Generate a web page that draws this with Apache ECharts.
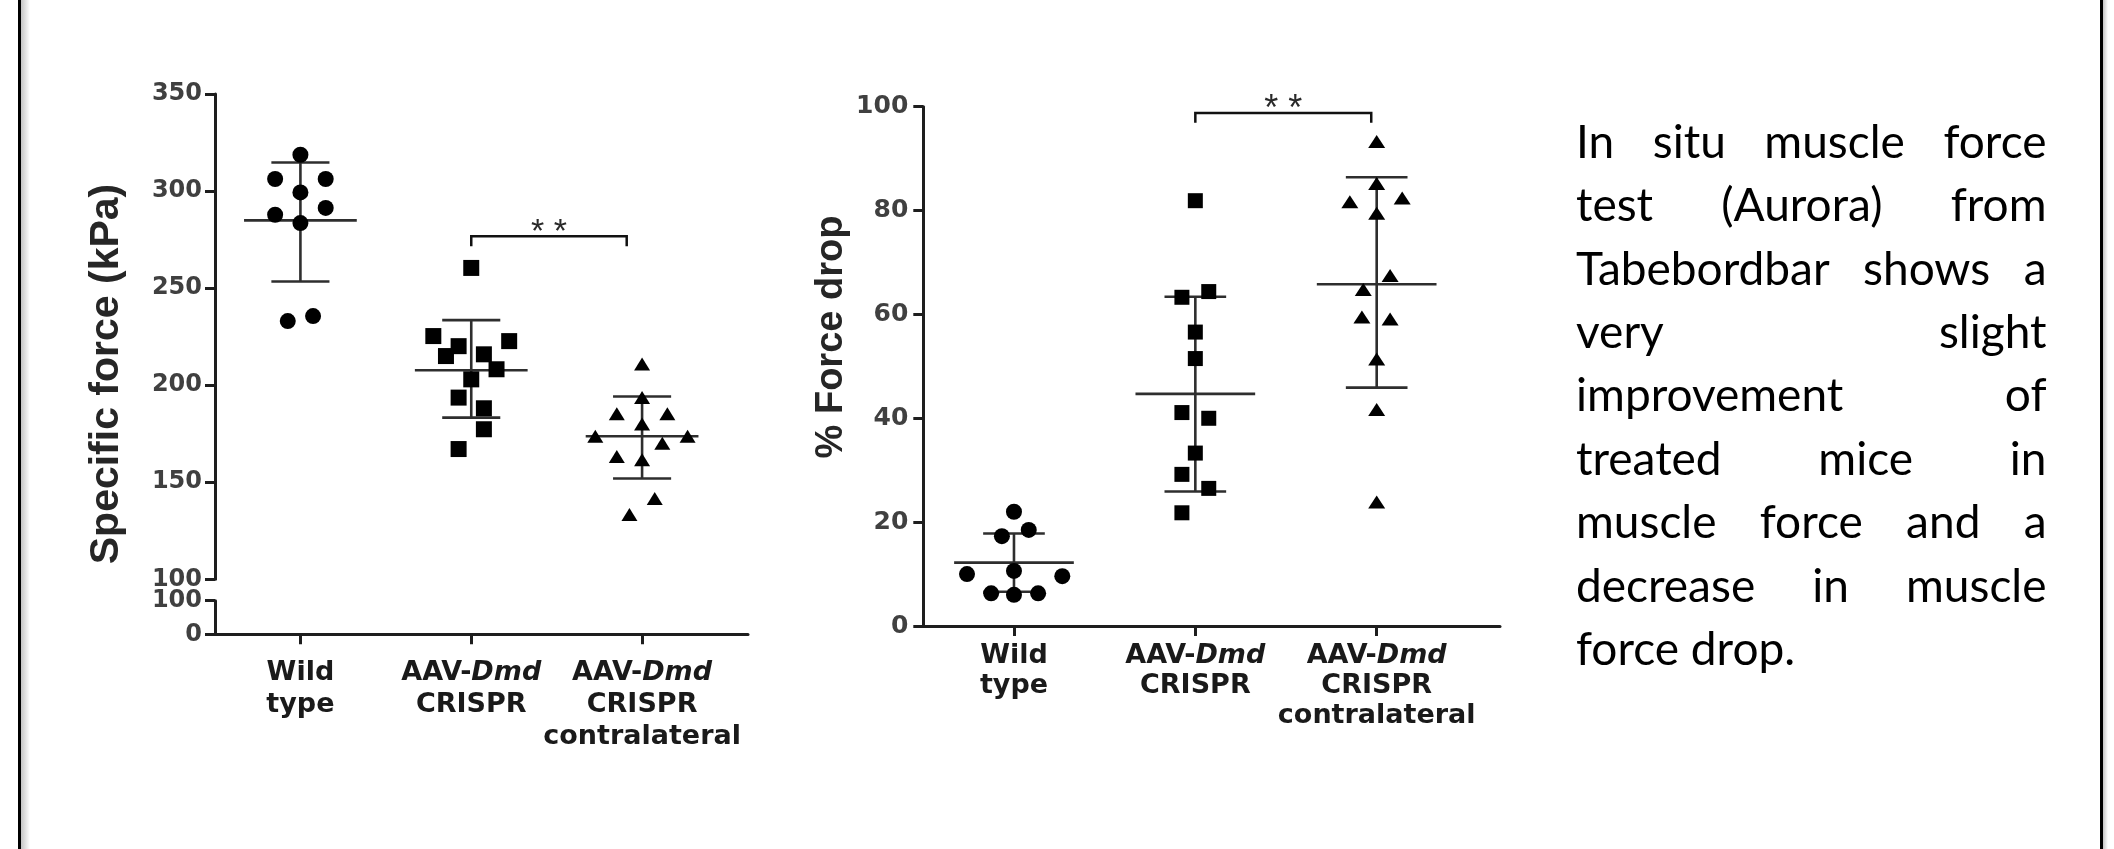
<!DOCTYPE html>
<html>
<head>
<meta charset="utf-8">
<script src="https://cdn.jsdelivr.net/npm/echarts@6/dist/echarts.min.js"></script>
<style>
html, body { margin: 0; padding: 0; background: #fff; }
#main { width: 2114px; height: 849px; }
</style>
</head>
<body>
<div id="main"></div>
<script>
let chart = echarts.init(document.getElementById('main'));

/* groups on both panels */
let groupNames = ['Wild\ntype', 'AAV-Dmd\nCRISPR', 'AAV-Dmd\nCRISPR\ncontralateral'];

/* specific force (kPa) */
let forceWt = [318.7, 306.2, 306.2, 299.3, 291.3, 287.8, 283.5, 233.0, 235.6];
let forceWtSlot = [0, -2, 2, 0, 2, -2, 0, -1, 1];
let forceCr = [260.4, 225.3, 222.7, 220.1, 215.0, 215.9, 208.2, 203.0, 193.6, 188.1, 177.3, 167.1];
let forceCrSlot = [0, -3, 3, -1, -2, 1, 2, 0, -1, 1, 1, -1];
let forceCo = [210.9, 193.7, 185.3, 185.3, 180.0, 173.7, 173.7, 170.1, 163.2, 161.6, 141.6, 133.4];
let forceCoSlot = [0, 0, -2, 2, 0, -3.7, 3.6, 1.6, -2, 0, 1, -1];
let forceMean = [284.9, 207.7, 173.7];
let forceSdHi = [314.7, 233.5, 194.2];
let forceSdLo = [253.4, 183.3, 151.9];

/* % force drop, right panel */
let dropWt = [22.0, 17.3, 18.5, 10.0, 10.6, 9.6, 6.3, 6.0, 6.3];
let dropWtSlot = [0, -0.9, 1.1, -3.5, 0, 3.6, -1.7, 0, 1.8];
let dropCr = [81.9, 63.3, 64.4, 56.6, 51.5, 41.1, 40.0, 33.3, 29.2, 26.5, 21.8];
let dropCrSlot = [0, -1, 1, 0, 0, -1, 1, 0, -1, 1, -1];
let dropCo = [93.3, 85.2, 81.7, 82.4, 79.5, 67.5, 64.8, 59.5, 59.1, 51.4, 41.7, 23.9];
let dropCoSlot = [0, 0, -2, 1.9, 0, 1, -1, -1.1, 1, 0, 0, 0];
let dropMean = [12.2, 44.7, 65.8];
let dropSdHi = [17.8, 63.4, 86.4];
let dropSdLo = [6.6, 25.9, 45.9];

/* significance: [from group, to group, bar value, tick end value] */
let forceSig = [2, 2.91, 276.7, 271.6];
let dropSig = [2, 2.97, 98.8, 96.9];

/* side note */
let noteLines = [
    'In situ muscle force',
    'test (Aurora) from',
    'Tabebordbar shows a',
    'very slight',
    'improvement of',
    'treated mice in',
    'muscle force and a',
    'decrease in muscle',
    'force drop.'
];

let SLOT = 0.074;      // one jitter column, in group units
let MEAN_HALF = 0.33;
let CAP_HALF = 0.17;
let INK = '#1e1e1e';

function cloud(vals, slots, g) {
    return vals.map(function (v, i) { return [g + slots[i] * SLOT, v]; });
}

function groupLabel(v) {
    let name = groupNames[Math.round(v) - 1];
    if (!name) return '';
    return name.split('\n').map(function (line) {
        if (line.indexOf('Dmd') >= 0) return '{b|' + line.replace('Dmd', '') + '}{i|Dmd}';
        return '{b|' + line + '}';
    }).join('\n');
}

function yAx(grid, min, max, step, margin, fs) {
    return {
        type: 'value', gridIndex: grid, min: min, max: max, interval: step,
        axisLine: { show: true, lineStyle: { color: INK, width: 3 } },
        axisTick: { show: true, length: 10, lineStyle: { color: INK, width: 3 } },
        axisLabel: { margin: margin, color: '#404040', fontFamily: 'DejaVu Sans', fontWeight: 'bold', fontSize: fs },
        splitLine: { show: false }
    };
}

function xAx(grid, max, show, margin, fs, lh) {
    let rich = {
        b: { fontFamily: 'DejaVu Sans', fontWeight: 'bold', fontSize: fs, lineHeight: lh, color: '#1a1a1a' },
        i: { fontFamily: 'DejaVu Sans', fontWeight: 'bold', fontStyle: 'italic', fontSize: fs, lineHeight: lh, color: '#1a1a1a' }
    };
    return {
        type: 'value', gridIndex: grid, min: 0.5, max: max, show: show,
        axisLine: { show: true, onZero: true, lineStyle: { color: INK, width: 3 } },
        axisTick: { show: true, length: 10, customValues: [1, 2, 3], lineStyle: { color: INK, width: 3 } },
        axisLabel: { show: true, customValues: [1, 2, 3], margin: margin, formatter: groupLabel, rich: rich },
        splitLine: { show: false }
    };
}

function dots(data, xi, yi, symbol, size) {
    return {
        type: 'scatter', xAxisIndex: xi, yAxisIndex: yi, data: data,
        symbol: symbol, symbolSize: size, silent: true, z: 3,
        itemStyle: { color: '#000', opacity: 1 }
    };
}

function meanSd(mean, hi, lo, xi, yi) {
    return {
        type: 'custom', xAxisIndex: xi, yAxisIndex: yi, z: 2, silent: true,
        data: mean.map(function (m, i) { return [i + 1, m, hi[i], lo[i]]; }),
        renderItem: function (params, api) {
            let g = api.value(0);
            let c = api.coord([g, api.value(1)]);
            let top = api.coord([g, api.value(2)])[1];
            let bot = api.coord([g, api.value(3)])[1];
            let half = api.size([MEAN_HALF, 0])[0];
            let cap = api.size([CAP_HALF, 0])[0];
            let st = { stroke: '#2e2e2e', lineWidth: 2.6 };
            return {
                type: 'group', children: [
                    { type: 'line', shape: { x1: c[0] - half, y1: c[1], x2: c[0] + half, y2: c[1] }, style: st },
                    { type: 'line', shape: { x1: c[0], y1: top, x2: c[0], y2: bot }, style: st },
                    { type: 'line', shape: { x1: c[0] - cap, y1: top, x2: c[0] + cap, y2: top }, style: st },
                    { type: 'line', shape: { x1: c[0] - cap, y1: bot, x2: c[0] + cap, y2: bot }, style: st }
                ]
            };
        }
    };
}

function bracket(sig, xi, yi, fs) {
    return {
        type: 'custom', xAxisIndex: xi, yAxisIndex: yi, z: 2, silent: true, clip: false,
        data: [sig],
        renderItem: function (params, api) {
            let a = api.coord([api.value(0), api.value(2)]);
            let b = api.coord([api.value(1), api.value(2)]);
            let end = api.coord([api.value(0), api.value(3)])[1];
            return {
                type: 'group', children: [
                    { type: 'polyline', shape: { points: [[a[0], end], [a[0], a[1]], [b[0], b[1]], [b[0], end]] },
                      style: { stroke: '#111', lineWidth: 2.5, fill: null } },
                    { type: 'text', x: (a[0] + b[0]) / 2, y: a[1] - 13.5 + 0.3 * fs,
                      style: { text: '* *', fontFamily: 'Liberation Sans', fontSize: fs, fill: '#2a2a2a',
                               align: 'center', verticalAlign: 'middle' } }
                ]
            };
        }
    };
}

/* justified side note, words placed one by one */
let NOTE_FS = 46;
let NOTE_FAMILY = 'Lato';
let noteLeft = 1576, noteRight = 2046.5, noteTop = 143, noteStep = 63.4;
let ctx = document.createElement('canvas').getContext('2d');
ctx.font = NOTE_FS + 'px ' + NOTE_FAMILY;
let noteText = [];
function noteWord(txt, x, y, align) {
    noteText.push({
        type: 'text', x: x, y: y, silent: true,
        style: { text: txt, fontFamily: NOTE_FAMILY, fontSize: NOTE_FS, fill: '#000', align: align, verticalAlign: 'middle' }
    });
}
noteLines.forEach(function (line, k) {
    let y = noteTop + k * noteStep;
    let words = line.split(' ');
    if (k === noteLines.length - 1 || words.length < 2) {
        noteWord(line, noteLeft, y, 'left');
        return;
    }
    let widths = words.map(function (w) { return ctx.measureText(w).width; });
    let sum = widths.reduce(function (s, w) { return s + w; }, 0);
    let gap = (noteRight - noteLeft - sum) / (words.length - 1);
    let x = noteLeft;
    words.forEach(function (w, i) {
        if (i === words.length - 1) noteWord(w, noteRight, y, 'right');
        else noteWord(w, x, y, 'left');
        x += widths[i] + gap;
    });
});

let frame = [
    { type: 'rect', shape: { x: 18, y: 0, width: 3, height: 849 }, style: { fill: '#000' } },
    { type: 'rect', shape: { x: 21, y: 0, width: 9, height: 849 },
      style: { fill: new echarts.graphic.LinearGradient(0, 0, 1, 0, [{ offset: 0, color: '#c4c4c4' }, { offset: 1, color: '#ffffff' }]) } },
    { type: 'rect', shape: { x: 2100, y: 0, width: 3, height: 849 }, style: { fill: '#000' } },
    { type: 'rect', shape: { x: 2103, y: 0, width: 5, height: 849 },
      style: { fill: new echarts.graphic.LinearGradient(0, 0, 1, 0, [{ offset: 0, color: '#c4c4c4' }, { offset: 1, color: '#ffffff' }]) } }
];

let titles = [
    { type: 'text', x: 107, y: 374, rotation: Math.PI / 2, silent: true,
      style: { text: 'Specific force (kPa)', fontFamily: 'Liberation Sans', fontWeight: 'bold', fontSize: 41,
               fill: '#262626', align: 'center', verticalAlign: 'middle' } },
    { type: 'text', x: 832, y: 337, rotation: Math.PI / 2, silent: true,
      style: { text: '% Force drop', fontFamily: 'Liberation Sans', fontWeight: 'bold', fontSize: 38,
               fill: '#262626', align: 'center', verticalAlign: 'middle' } }
];

let option = {
    backgroundColor: '#fff',
    animation: false,
    grid: [
        { left: 215, top: 94, width: 533, height: 485.3 },
        { left: 215, top: 600.7, width: 533, height: 33.6 },
        { left: 923.3, top: 106.7, width: 576.7, height: 519.3 }
    ],
    xAxis: [
        xAx(0, 3.62, false, 22.7, 27, 32),
        xAx(1, 3.62, true, 22.7, 27, 32),
        xAx(2, 3.68, true, 15, 27, 30)
    ],
    yAxis: [
        yAx(0, 100, 350, 50, 13, 24),
        yAx(1, 0, 100, 100, 13, 24),
        yAx(2, 0, 100, 20, 15, 25)
    ],
    graphic: frame.concat(titles, noteText),
    series: [
        meanSd(forceMean, forceSdHi, forceSdLo, 0, 0),
        dots(cloud(forceWt, forceWtSlot, 1), 0, 0, 'circle', 16),
        dots(cloud(forceCr, forceCrSlot, 2), 0, 0, 'rect', 16),
        dots(cloud(forceCo, forceCoSlot, 3), 0, 0, 'triangle', [16, 13]),
        bracket(forceSig, 0, 0, 34),

        meanSd(dropMean, dropSdHi, dropSdLo, 2, 2),
        dots(cloud(dropWt, dropWtSlot, 1), 2, 2, 'circle', 16),
        dots(cloud(dropCr, dropCrSlot, 2), 2, 2, 'rect', 15),
        dots(cloud(dropCo, dropCoSlot, 3), 2, 2, 'triangle', [17, 13]),
        bracket(dropSig, 2, 2, 36)
    ]
};

chart.setOption(option);
</script>
</body>
</html>
